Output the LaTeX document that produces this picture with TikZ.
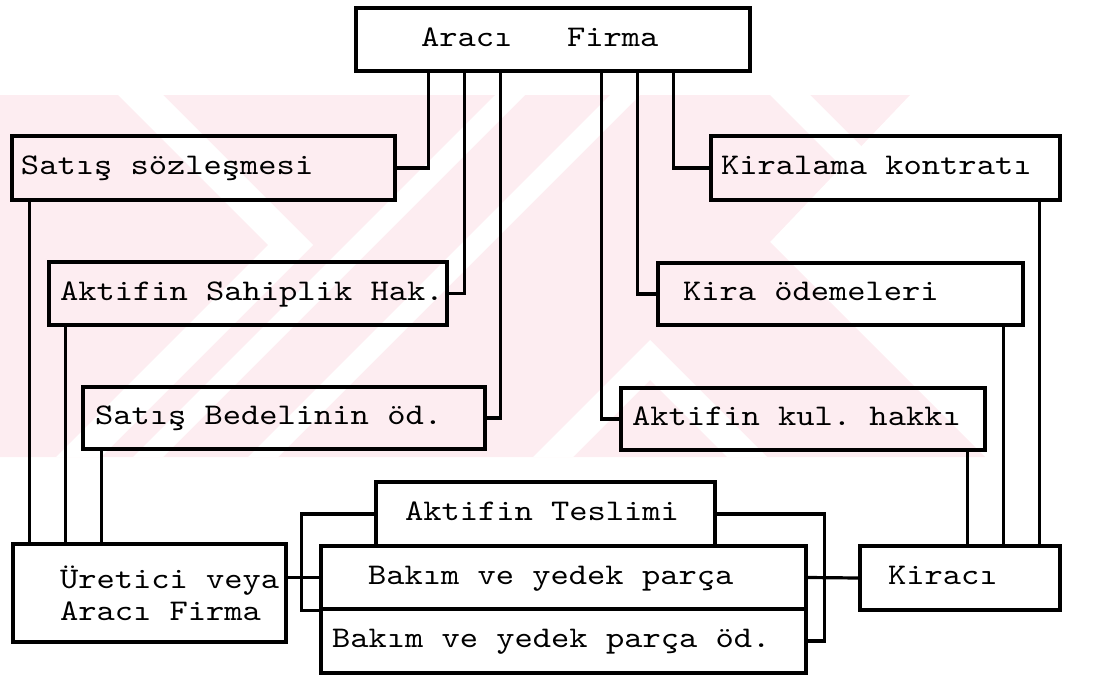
\documentclass[tikz,border=0pt]{standalone}
\usepackage{fontspec}
\setmonofont{lmmono10-regular.otf}[FakeStretch=1.16]
\definecolor{wm}{RGB}{253,237,241}
\newcommand{\mkbox}[7]{%
  \node[bx, minimum width={#4-#2}, minimum height={#5-#3}] (#1) at ({(#2+#4)/2},{(#3+#5)/2})
    {\makebox[\dimexpr#4pt-#2pt\relax][l]{\hspace*{#6pt}\rule[-6.5pt]{0pt}{26.5pt}#7}};}
\begin{document}
\begin{tikzpicture}[x=1pt,y=-1pt,
  bx/.style={draw, line width=3.2pt, inner sep=0pt, font=\ttfamily\fontsize{30}{32}\selectfont},
  ln/.style={line width=3.2pt},
  white/.style={fill=white}]
\useasboundingbox (0,0) rectangle (1098,677);
% watermark
\fill[wm] (0,95) -- (910,95) -- (770,242) -- (985,457) -- (0,457) -- cycle;
\fill[white] (118,95) -- (163,95) -- (313,245) -- (101,457) -- (56,457) -- (268,245) -- cycle;
\fill[white] (495,95) -- (525,95) -- (163,457) -- (133,457) -- cycle;
\fill[white] (610,95) -- (640,95) -- (278,457) -- (248,457) -- cycle;
\fill[white] (533,457) -- (650,340) -- (767,457) -- (727,457) -- (650,380) -- (573,457) -- cycle;
\fill[white] (770,95) -- (810,95) -- (1172,457) -- (1132,457) -- cycle;
% boxes
\mkbox{top}{356}{8}{750}{71}{65}{Aracı\ \ \ Firma}
\mkbox{satis}{12}{136}{395}{200}{9}{Satış sözleşmesi}
\mkbox{sahip}{49}{262}{447}{325}{11}{Aktifin Sahiplik Hak.}
\mkbox{bedel}{83}{387}{485}{449}{12}{Satış Bedelinin öd.}
\mkbox{kontrat}{711}{136}{1060}{200}{10}{Kiralama kontratı}
\mkbox{kiraod}{658}{263}{1023}{325}{25}{Kira ödemeleri}
\mkbox{kulhak}{621}{388}{985}{450}{11}{Aktifin kul. hakkı}
\mkbox{teslim}{376}{482}{715}{546}{29}{Aktifin Teslimi}
\mkbox{bakim}{321}{546}{806}{609}{47}{Bakım ve yedek parça}
\mkbox{bakimod}{321}{609}{806}{673}{11}{Bakım ve yedek parça öd.}
\mkbox{kiraci}{860}{546}{1060}{610}{28}{Kiracı}
\node[bx, minimum width=273, minimum height=98] (uretici) at (149.5,593)
  {\parbox{273pt}{\hspace*{47pt}Üretici veya\\\hspace*{47pt}Aracı Firma}};
% connectors from the top box
\draw[ln] (top.south west) ++(74,0) |- (satis.east);
\draw[ln] (top.south west) ++(110,0) |- (sahip.east);
\draw[ln] (top.south west) ++(146,0) |- (bedel.east);
\draw[ln] (top.south west) ++(247,0) |- (kulhak.west);
\draw[ln] (top.south west) ++(283,0) |- (kiraod.west);
\draw[ln] (top.south west) ++(319,0) |- (kontrat.west);
% down to the parties
\draw[ln] ([xshift=19pt]satis.south west) -- ([xshift=18pt]uretici.north west);
\draw[ln] ([xshift=18pt]sahip.south west) -- ([xshift=54pt]uretici.north west);
\draw[ln] ([xshift=20pt]bedel.south west) -- ([xshift=90pt]uretici.north west);
\draw[ln] ([xshift=348pt]kulhak.south west) -- ([xshift=109pt]kiraci.north west);
\draw[ln] ([xshift=347pt]kiraod.south west) -- ([xshift=145pt]kiraci.north west);
\draw[ln] ([xshift=330pt]kontrat.south west) -- ([xshift=181pt]kiraci.north west);
% middle group
\draw[ln] (bakim.west -| uretici.east) -- (bakim.west);
\draw[ln] (bakim.east) -- (kiraci.west);
\draw[ln] (teslim.west) -- ++(-73,0) |- (bakim.south west);
\draw[ln] (teslim.east) -- ++(108,0) |- (bakimod.east);
\end{tikzpicture}
\end{document}
